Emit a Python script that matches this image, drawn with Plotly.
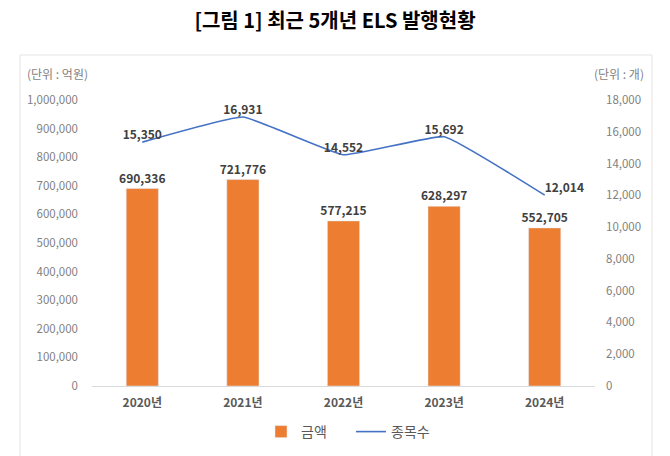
import plotly.graph_objects as go

years = ["2020년", "2021년", "2022년", "2023년", "2024년"]
amount = [690336, 721776, 577215, 628297, 552705]
count = [15350, 16931, 14552, 15692, 12014]
count_pos = ["top center", "top center", "top center", "top center", "top right"]

FONT = "Noto Sans CJK KR"
W, H = 670, 456
L, R, T, B = 92, 75, 100, 70
pw, ph = W - L - R, H - T - B

def px(x):
    return (x - L) / pw

def py(y):
    return (H - B - y) / ph

fig = go.Figure()
fig.add_trace(go.Bar(
    x=years, y=amount, name="금액",
    marker=dict(color="#ED7D31"), width=0.32,
    text=[f"{v:,}" for v in amount], textposition="outside", constraintext="none",
    textfont=dict(family=FONT, size=12, color="#404040", weight="bold"),
    cliponaxis=False,
))
fig.add_trace(go.Scatter(
    x=years, y=count, name="종목수", yaxis="y2", mode="lines+text",
    line=dict(color="#4472C4", width=1.6, shape="spline", smoothing=0.3),
    text=[f"{v:,}" for v in count], textposition=count_pos,
    textfont=dict(family=FONT, size=12, color="#404040", weight="bold"),
    cliponaxis=False,
))

fig.update_layout(
    width=W, height=H,
    margin=dict(l=L, r=R, t=T, b=B, autoexpand=False),
    paper_bgcolor="white", plot_bgcolor="white",
    font=dict(family=FONT, color="#595959"),
    title=dict(text="<b>[그림 1] 최근 5개년 ELS 발행현황</b>", x=0.5, xref="container",
               xanchor="center", yref="container", y=1 - 21 / H, yanchor="middle",
               font=dict(family=FONT, size=20, color="#000000")),
    xaxis=dict(showgrid=False, showline=True, linecolor="#D9D9D9", linewidth=1,
               ticks="", tickfont=dict(family=FONT, size=12, color="#595959", weight="bold"),
               ticklabelstandoff=6, automargin=False),
    yaxis=dict(range=[0, 1000000], dtick=100000, tickformat=",", showgrid=False,
               zeroline=False, showline=False, automargin=False,
               tickfont=dict(family=FONT, size=11.5, color="#7F7F7F"), ticklabelstandoff=13),
    yaxis2=dict(range=[0, 18000], dtick=2000, tickformat=",", overlaying="y", side="right",
                showgrid=False, zeroline=False, showline=False, automargin=False,
                tickfont=dict(family=FONT, size=11.5, color="#7F7F7F"), ticklabelstandoff=10),
    legend=dict(orientation="h", x=px(351), xanchor="center", yref="container",
                y=1 - 432 / H, yanchor="middle",
                font=dict(family=FONT, size=14, color="#595959"), itemwidth=30,
                traceorder="normal", entrywidthmode="pixels", entrywidth=45),
    showlegend=True,
)

fig.add_shape(type="rect", xref="paper", yref="paper",
              x0=px(20), x1=px(652), y0=py(460), y1=py(55),
              line=dict(color="#E3E3E3", width=1), fillcolor="rgba(0,0,0,0)", layer="below")

fig.add_annotation(text="(단위 : 억원)", xref="paper", yref="paper", x=px(25), y=py(73),
                   xanchor="left", yanchor="middle", showarrow=False,
                   font=dict(family=FONT, size=12, color="#7F7F7F"))
fig.add_annotation(text="(단위 : 개)", xref="paper", yref="paper", x=px(646), y=py(73),
                   xanchor="right", yanchor="middle", showarrow=False,
                   font=dict(family=FONT, size=12, color="#7F7F7F"))

fig.write_html("out.html", config={"displayModeBar": False},
               post_script="document.body.style.margin='0';")
